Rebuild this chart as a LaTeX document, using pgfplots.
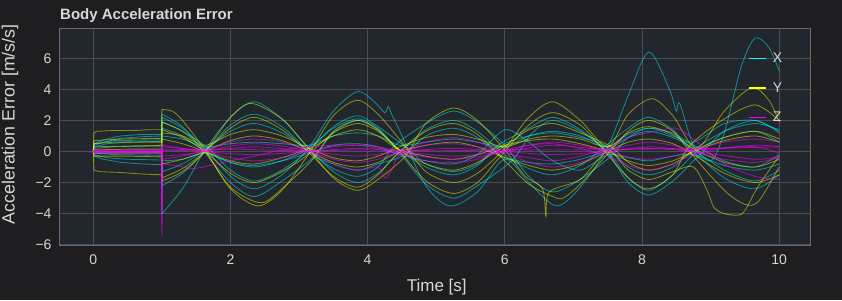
\documentclass[border=0pt]{standalone}
\usepackage{pgfplots}
\pgfplotsset{compat=1.18}
\usepackage{fontspec}
\setmainfont{Liberation Sans}
\definecolor{outerbg}{RGB}{30,30,32}
\definecolor{plotbg}{RGB}{34,38,45}
\definecolor{gridc}{RGB}{74,77,82}
\definecolor{framec}{RGB}{105,107,110}
\definecolor{txt}{RGB}{215,215,215}
\definecolor{cX}{RGB}{0,255,255}
\definecolor{cY}{RGB}{255,255,0}
\definecolor{cZ}{RGB}{255,0,255}
\pgfplotsset{
  xpre/.style={draw=cX, opacity=0.47, line width=0.85pt, forget plot},
  xpost/.style={draw=cX, opacity=0.47, line width=0.85pt, forget plot, smooth, tension=0.5},
  ypre/.style={draw=cY, opacity=0.47, line width=0.85pt, forget plot},
  ypost/.style={draw=cY, opacity=0.47, line width=0.85pt, forget plot, smooth, tension=0.5},
  zpre/.style={draw=cZ, opacity=0.55, line width=0.85pt, forget plot},
  zpost/.style={draw=cZ, opacity=0.55, line width=0.85pt, forget plot, smooth, tension=0.5},
}
\begin{document}
\begin{tikzpicture}
\path[use as bounding box, fill=outerbg] (0,0) rectangle (842pt,300pt);
\node[anchor=base west, text=txt, font=\fontsize{15}{17}\selectfont\bfseries, inner sep=0pt] at (60pt,280pt) {Body Acceleration Error};
\begin{axis}[
  at={(59pt,55pt)}, anchor=south west,
  scale only axis, width=751pt, height=217pt,
  xmin=-0.5, xmax=10.45, ymin=-6.02, ymax=7.95,
  axis background/.style={fill=plotbg},
  axis line style={framec, line width=0.8pt},
  grid=major, major grid style={gridc, line width=0.8pt},
  major tick length=0pt,
  xtick={0,2,4,6,8,10},
  ytick={-6,-4,-2,0,2,4,6},
  yticklabels={−6,−4,−2,0,2,4,6},
  /pgf/number format/assume math mode=true,
  tick label style={text=txt, font=\fontsize{14}{16}\selectfont},
  xticklabel style={yshift=-6pt},
  yticklabel style={xshift=-4pt},
  xlabel={Time [s]}, ylabel={Acceleration Error [m/s/s]},
  label style={text=txt},
  xlabel style={font=\fontsize{17}{19}\selectfont, at={(axis description cs:0.503,-0.194)}, anchor=center},
  ylabel style={font=\fontsize{17.8}{19}\selectfont, at={(axis description cs:-0.0652,0.556)}, anchor=center, rotate=0},
  legend style={draw=none, fill=none, text=txt, font=\fontsize{14}{16}\selectfont, at={(0.97,0.905)}, anchor=north east, row sep=14.5pt, column sep=4pt},
  legend cell align=left,
]
% ---------------- X (cyan) ----------------
\addplot[xpre] coordinates {(0,0)(0.01,0.4)(0.15,0.6)(0.4,0.85)(0.7,0.95)(1.0,1.0)(1.0,2.2)};
\addplot[xpost] coordinates {(1.0,2.2)(1.3,1.5)(1.63,0.2)(2.0,-1.6)(2.35,-2.4)(2.75,-1.5)(3.15,0.3)(3.5,2.6)(3.85,3.85)(4.1,3.2)(4.25,2.5)(4.3,2.9)(4.35,2.4)(4.47,1.3)(4.85,-2.2)(5.2,-3.5)(5.6,-2.6)(6.0,-0.5)(6.35,-2.0)(6.75,-3.5)(7.1,-2.3)(7.5,0.3)(7.8,3.6)(8.1,6.4)(8.4,4.0)(8.5,2.6)(8.55,3.1)(8.75,0.4)(9.0,-0.6)(9.2,1.2)(9.45,5.5)(9.65,7.3)(9.85,6.7)(10.0,5.2)};
\addplot[xpre] coordinates {(0,0)(0.01,0.5)(0.15,0.75)(0.4,1.0)(0.7,1.1)(1.0,1.1)(1.0,2.4)};
\addplot[xpost] coordinates {(1.0,2.4)(1.3,1.6)(1.63,-0.1)(2.0,-2.0)(2.35,-2.9)(2.75,-1.9)(3.2,-0.4)(3.5,1.2)(3.85,2.0)(4.15,1.4)(4.4,0.3)(4.85,-1.0)(5.25,-1.5)(5.6,-0.9)(5.9,0.4)(6.35,1.5)(6.7,2.2)(7.1,1.4)(7.5,-0.1)(7.8,-2.0)(8.1,-2.8)(8.45,-1.9)(8.8,-0.4)(9.2,1.3)(9.65,2.0)(10.0,1.2)};
\addplot[xpre] coordinates {(0,0)(0.01,-0.3)(0.15,-0.5)(0.4,-0.7)(0.7,-0.8)(1.0,-0.85)(1.0,-4.0)};
\addplot[xpost] coordinates {(1.0,-4.0)(1.3,-2.4)(1.63,0.1)(2.0,2.2)(2.35,3.2)(2.75,2.1)(3.1,0.4)(3.5,-1.3)(3.85,-2.0)(4.15,-1.4)(4.47,0.0)(4.85,1.4)(5.25,2.0)(5.6,1.3)(6.05,-0.4)(6.35,-1.1)(6.7,-1.5)(7.1,-0.9)(7.45,0.3)(7.8,1.5)(8.1,2.2)(8.45,1.4)(8.65,0.4)(9.2,-1.7)(9.65,-2.4)(10.0,-1.5)};
\addplot[xpre] coordinates {(0,0)(0.01,0.3)(0.2,0.5)(0.5,0.6)(1.0,0.65)(1.0,1.9)};
\addplot[xpost] coordinates {(1.0,1.9)(1.3,1.3)(1.68,0.2)(2.0,-1.2)(2.35,-1.9)(2.75,-1.2)(3.15,0.1)(3.5,1.6)(3.85,2.3)(4.15,1.6)(4.55,0.3)(4.85,-0.8)(5.25,-1.3)(5.6,-0.8)(6.0,0.5)(6.35,1.0)(6.7,1.2)(7.1,0.9)(7.45,0.4)(7.8,-1.0)(8.1,-1.5)(8.45,-1.0)(8.75,0.1)(9.2,1.3)(9.65,1.8)(10.0,1.4)};
\addplot[xpre] coordinates {(0,0)(0.01,-0.2)(0.2,-0.4)(0.5,-0.5)(1.0,-0.55)(1.0,-2.2)};
\addplot[xpost] coordinates {(1.0,-2.2)(1.3,-1.4)(1.63,0.0)(2.0,1.7)(2.35,2.4)(2.75,1.6)(3.2,-0.2)(3.5,-0.8)(3.85,-1.2)(4.15,-0.8)(4.5,-0.3)(4.85,1.0)(5.25,1.5)(5.6,0.9)(5.95,-0.3)(6.35,-0.7)(6.7,-0.8)(7.1,-0.5)(7.5,0.1)(7.8,0.9)(8.1,1.3)(8.45,0.9)(8.7,0.3)(9.2,-1.2)(9.65,-1.9)(10.0,-1.2)};
\addplot[xpre] coordinates {(0,0)(0.01,0.2)(0.3,0.3)(1.0,0.35)(1.0,1.5)};
\addplot[xpost] coordinates {(1.0,1.5)(1.3,1.0)(1.63,0.0)(2.0,-0.7)(2.35,-1.0)(2.75,-0.6)(3.1,0.1)(3.5,1.5)(3.85,2.1)(4.15,1.5)(4.47,-0.1)(4.85,-2.1)(5.25,-3.0)(5.6,-2.2)(6.1,-0.6)(6.4,1.2)(6.7,2.0)(7.1,1.3)(7.5,0.0)(7.8,-1.7)(8.1,-2.5)(8.45,-1.5)(8.85,0.2)(9.2,0.9)(9.65,1.3)(10.0,0.6)};
\addplot[xpre] coordinates {(0,0)(0.01,-0.1)(0.3,-0.2)(1.0,-0.25)(1.0,-1.3)};
\addplot[xpost] coordinates {(1.0,-1.3)(1.3,-0.8)(1.63,0.1)(2.0,1.3)(2.35,1.8)(2.75,1.2)(3.15,0.0)(3.5,-1.1)(3.85,-1.6)(4.15,-1.0)(4.4,0.4)(4.85,1.8)(5.25,2.6)(5.6,1.9)(6.0,0.4)(6.35,-1.6)(6.7,-2.6)(7.1,-1.8)(7.55,-0.3)(7.8,0.9)(8.1,1.5)(8.45,1.0)(8.8,0.3)(9.2,-0.6)(9.65,-1.0)(10.0,-0.2)};
\addplot[xpre] coordinates {(0,0)(0.01,0.5)(0.3,0.7)(1.0,0.75)(1.0,1.0)};
\addplot[xpost] coordinates {(1.0,1.0)(1.3,0.8)(1.63,0.3)(2.0,0.5)(2.35,0.6)(2.75,0.5)(3.15,0.4)(3.5,1.0)(3.85,1.2)(4.15,1.0)(4.47,0.4)(4.85,0.6)(5.25,0.8)(5.6,0.6)(6.0,0.3)(6.35,1.0)(6.7,1.3)(7.1,1.0)(7.5,0.3)(7.8,1.1)(8.1,1.5)(8.45,1.2)(8.75,0.6)(9.2,1.8)(9.65,2.0)(10.0,1.3)};
\addplot[xpre] coordinates {(0,0)(0.01,-0.1)(0.5,-0.1)(1.0,-0.1)(1.0,-0.6)};
\addplot[xpost] coordinates {(1.0,-0.6)(1.3,-0.5)(1.63,-0.1)(2.0,-0.7)(2.35,-0.9)(2.75,-0.6)(3.15,-0.1)(3.5,0.4)(3.85,0.5)(4.15,0.3)(4.47,-0.2)(4.85,-0.6)(5.25,-0.8)(5.6,-0.2)(6.0,1.4)(6.35,0.6)(6.7,-0.6)(7.1,-1.2)(7.5,-0.2)(7.8,-0.4)(8.1,-0.6)(8.45,-0.3)(8.75,-0.2)(9.2,-0.9)(9.65,-1.2)(10.0,-0.8)};
% ---------------- Y (yellow) ----------------
\addplot[ypre] coordinates {(0,0)(0.01,1.2)(0.05,1.3)(0.3,1.35)(0.6,1.35)(0.8,1.4)(1.0,1.4)(1.0,2.7)};
\addplot[ypost] coordinates {(1.0,2.7)(1.15,2.6)(1.3,2.0)(1.63,0.1)(2.0,-2.4)(2.4,-3.5)(2.75,-2.5)(3.15,-0.1)(3.5,2.3)(3.85,3.3)(4.15,2.4)(4.5,0.6)(4.85,-1.3)(5.25,-2.0)(5.6,-1.4)(6.0,0.2)(6.35,2.2)(6.7,3.2)(7.1,2.0)(7.5,0.3)(7.8,2.4)(8.15,3.4)(8.45,2.3)(8.8,0.2)(9.2,2.6)(9.6,4.1)(9.85,3.3)(10.0,1.9)};
\addplot[ypre] coordinates {(0,0)(0.01,-1.2)(0.1,-1.3)(0.4,-1.35)(0.7,-1.45)(1.0,-1.5)(1.0,-1.9)};
\addplot[ypost] coordinates {(1.0,-1.9)(1.3,-1.3)(1.63,0.0)(2.0,2.2)(2.3,3.1)(2.75,2.1)(3.1,0.4)(3.5,-1.7)(3.85,-2.5)(4.15,-1.8)(4.55,-0.3)(4.85,1.8)(5.25,2.8)(5.6,2.0)(6.0,0.1)(6.3,-1.6)(6.55,-2.4)(6.6,-4.2)(6.65,-2.6)(7.1,-1.8)(7.5,0.0)(7.8,-1.2)(8.1,-1.8)(8.45,-1.3)(8.75,-1.0)(8.95,-2.5)(9.05,-3.6)(9.2,-4.0)(9.4,-4.1)(9.5,-3.8)(9.7,-2.2)(10.0,-0.3)};
\addplot[ypre] coordinates {(0,0)(0.01,0.5)(0.3,0.6)(1.0,0.6)(1.0,1.9)};
\addplot[ypost] coordinates {(1.0,1.9)(1.3,1.3)(1.63,0.0)(2.0,-2.3)(2.45,-3.3)(2.8,-2.2)(3.2,-0.5)(3.5,1.3)(3.85,2.0)(4.15,1.4)(4.47,0.0)(4.85,-1.9)(5.25,-2.7)(5.6,-2.0)(5.9,-0.5)(6.35,1.7)(6.7,2.5)(7.1,1.7)(7.4,0.3)(7.8,-1.7)(8.1,-2.4)(8.45,-1.5)(8.7,0.4)(9.2,2.1)(9.65,3.0)(10.0,2.0)};
\addplot[ypre] coordinates {(0,0)(0.01,0.3)(0.5,0.35)(1.0,0.4)(1.0,1.4)};
\addplot[ypost] coordinates {(1.0,1.4)(1.3,0.9)(1.63,0.0)(2.0,-1.4)(2.35,-2.0)(2.75,-1.3)(3.1,-0.3)(3.5,1.2)(3.85,1.8)(4.15,1.3)(4.47,0.1)(4.85,-0.8)(5.25,-1.2)(5.6,-0.7)(6.05,0.5)(6.35,1.4)(6.7,1.8)(7.1,1.2)(7.55,0.3)(7.8,-0.7)(8.1,-1.2)(8.45,-0.8)(8.75,0.0)(9.2,0.9)(9.65,1.3)(10.0,0.8)};
\addplot[ypre] coordinates {(0,0)(0.01,-0.3)(0.5,-0.3)(1.0,-0.35)(1.0,-1.7)};
\addplot[ypost] coordinates {(1.0,-1.7)(1.3,-1.1)(1.63,0.0)(2.0,1.5)(2.35,2.2)(2.75,1.4)(3.15,-0.1)(3.5,-1.6)(3.85,-2.3)(4.15,-1.5)(4.4,-0.3)(4.85,1.3)(5.25,1.8)(5.6,1.1)(6.0,-0.6)(6.35,-2.1)(6.7,-2.9)(6.85,-3.0)(7.1,-2.1)(7.45,-0.4)(7.8,1.3)(8.1,2.0)(8.45,1.3)(8.75,-0.3)(9.2,-2.5)(9.5,-3.4)(9.7,-3.2)(10.0,-1.0)};
\addplot[ypre] coordinates {(0,0)(0.01,0.7)(0.4,0.8)(1.0,0.85)(1.0,1.2)};
\addplot[ypost] coordinates {(1.0,1.2)(1.3,1.0)(1.63,0.4)(2.0,1.1)(2.35,1.4)(2.75,1.0)(3.15,0.2)(3.5,-0.4)(3.85,-0.6)(4.15,-0.3)(4.47,0.3)(4.85,0.9)(5.25,1.1)(5.6,0.8)(6.0,0.3)(6.35,0.8)(6.7,1.0)(7.1,0.8)(7.5,0.3)(7.8,1.2)(8.1,1.6)(8.45,1.1)(8.75,0.2)(9.2,-0.7)(9.65,-1.0)(10.0,-0.5)};
\addplot[ypre] coordinates {(0,0)(0.01,0.1)(0.5,0.15)(1.0,0.15)(1.0,0.8)};
\addplot[ypost] coordinates {(1.0,0.8)(1.3,0.5)(1.63,0.0)(2.0,-0.6)(2.35,-0.8)(2.75,-0.4)(3.2,0.3)(3.5,1.0)(3.85,1.4)(4.15,1.0)(4.47,0.1)(4.85,-0.3)(5.25,-0.5)(5.6,-0.2)(6.0,0.4)(6.35,0.7)(6.7,0.8)(7.1,0.5)(7.5,0.0)(7.8,-0.6)(8.1,-0.9)(8.45,-0.6)(8.75,0.0)(9.2,0.7)(9.65,1.0)(10.0,0.6)};
\addplot[ypre] coordinates {(0,0)(0.01,-0.1)(0.5,-0.1)(1.0,-0.1)(1.0,-0.8)};
\addplot[ypost] coordinates {(1.0,-0.8)(1.3,-0.5)(1.63,0.0)(2.0,0.7)(2.35,1.0)(2.75,0.7)(3.15,0.0)(3.5,-0.7)(3.85,-1.0)(4.15,-0.7)(4.47,0.0)(4.85,0.4)(5.25,0.6)(5.6,0.3)(6.0,-0.4)(6.35,-0.9)(6.7,-1.2)(7.1,-0.8)(7.5,0.0)(7.8,0.6)(8.1,0.8)(8.45,0.5)(8.75,-0.2)(9.2,-1.4)(9.65,-2.0)(10.0,-1.5)};
% ---------------- Z (magenta) ----------------
\addplot[zpre] coordinates {(0,0)(0.01,-0.05)(1.0,-0.05)(1.0,-5.4)(1.01,0.3)};
\addplot[zpost] coordinates {(1.01,0.3)(1.3,0.2)(1.63,0.0)(2.0,-0.4)(2.35,-0.6)(2.75,-0.4)(3.15,0.0)(3.5,0.3)(3.85,0.4)(4.15,0.3)(4.47,0.0)(4.85,-0.35)(5.25,-0.5)(5.6,-0.35)(6.0,0.0)(6.35,0.4)(6.7,0.6)(7.1,0.4)(7.5,0.0)(7.8,-0.35)(8.1,-0.5)(8.45,-0.3)(8.75,0.1)(9.2,0.6)(9.65,0.8)(10.0,0.6)};
\addplot[zpre] coordinates {(0,0)(0.01,0.0)(1.0,0.05)(1.0,-4.6)(1.0,-0.5)};
\addplot[zpost] coordinates {(1.0,-0.5)(1.3,-0.3)(1.63,0.1)(2.0,0.6)(2.35,0.8)(2.75,0.6)(3.15,0.0)(3.5,-0.8)(3.85,-1.2)(4.15,-1.0)(4.25,-1.7)(4.35,-1.2)(4.47,-0.2)(4.85,0.4)(5.25,0.5)(5.6,0.3)(6.0,-0.1)(6.35,-0.4)(6.7,-0.6)(7.1,-0.3)(7.5,0.2)(7.8,0.9)(8.2,1.3)(8.5,1.5)(8.75,0.8)(9.2,-0.8)(9.65,-1.6)(10.0,-1.8)};
\addplot[zpre] coordinates {(0,0)(0.01,0.1)(1.0,0.1)(1.0,-3.5)(1.0,-0.8)};
\addplot[zpost] coordinates {(1.0,-0.8)(1.2,-0.9)(1.45,-1.1)(1.7,-0.9)(2.0,-0.6)(2.35,-0.3)(2.75,0.1)(3.15,0.3)(3.5,0.4)(3.85,0.4)(4.15,0.2)(4.47,-0.2)(4.85,-0.6)(5.25,-0.7)(5.6,-0.5)(6.0,0.1)(6.35,0.4)(6.7,0.5)(7.1,0.2)(7.5,-0.3)(7.8,-0.9)(8.1,-1.2)(8.45,-0.8)(8.75,-0.2)(9.2,0.2)(9.65,0.3)(10.0,-0.1)};
\addplot[zpre] coordinates {(0,0)(0.01,-0.1)(1.0,-0.1)(1.0,0.1)};
\addplot[zpost] coordinates {(1.0,0.1)(1.63,0.05)(2.35,0.3)(3.15,0.0)(3.85,-0.3)(4.47,0.0)(5.25,0.2)(6.0,0.0)(6.7,-0.2)(7.5,0.0)(8.1,0.3)(8.75,0.1)(9.65,0.4)(10.0,0.3)};
\addplot[zpre] coordinates {(0,0)(0.01,0.05)(1.0,0.05)(1.0,0.4)};
\addplot[zpost] coordinates {(1.0,0.4)(1.63,0.0)(2.35,-0.2)(3.15,0.0)(3.85,0.2)(4.47,0.0)(5.25,-0.3)(6.0,0.0)(6.7,0.4)(7.5,0.1)(8.1,0.2)(8.75,0.0)(9.65,-0.5)(10.0,-0.3)};
\addplot[zpre] coordinates {(0,0)(0.01,0.0)(1.0,0.0)(1.0,-0.3)};
\addplot[zpost] coordinates {(1.0,-0.3)(1.3,-0.2)(1.63,0.0)(2.0,0.35)(2.35,0.5)(2.75,0.35)(3.15,0.0)(3.5,-0.5)(3.85,-0.7)(4.15,-0.5)(4.47,0.0)(4.85,0.6)(5.25,0.9)(5.6,0.6)(6.0,0.0)(6.35,-0.7)(6.7,-1.0)(7.1,-0.7)(7.5,0.0)(7.8,0.4)(8.1,0.6)(8.45,0.4)(8.75,0.0)(9.2,-0.5)(9.65,-0.7)(10.0,-0.4)};
\addplot[zpre] coordinates {(0,0)(0.01,0.0)(1.0,0.0)(1.0,0.1)};
\addplot[zpost] coordinates {(1.0,0.1)(2.0,0.15)(3.0,0.05)(4.0,0.1)(5.0,0.05)(6.0,0.1)(7.0,0.1)(8.0,0.15)(9.0,0.2)(10.0,0.3)};
\addplot[zpost] coordinates {(0,0)(0.01,-0.05)(1.0,-0.05)};
% ---------------- legend ----------------
\addlegendimage{legend image code/.code={\draw[cX, line width=1.2pt, opacity=1] (0cm,0cm) -- (0.6cm,0cm);}}
\addlegendentry{X}
\addlegendimage{legend image code/.code={\draw[cY, line width=1.2pt, opacity=1] (0cm,0cm) -- (0.6cm,0cm);}}
\addlegendentry{Y}
\addlegendimage{legend image code/.code={\draw[cZ, line width=1.2pt, opacity=1] (0cm,0cm) -- (0.6cm,0cm);}}
\addlegendentry{Z}
\end{axis}
\end{tikzpicture}
\end{document}
